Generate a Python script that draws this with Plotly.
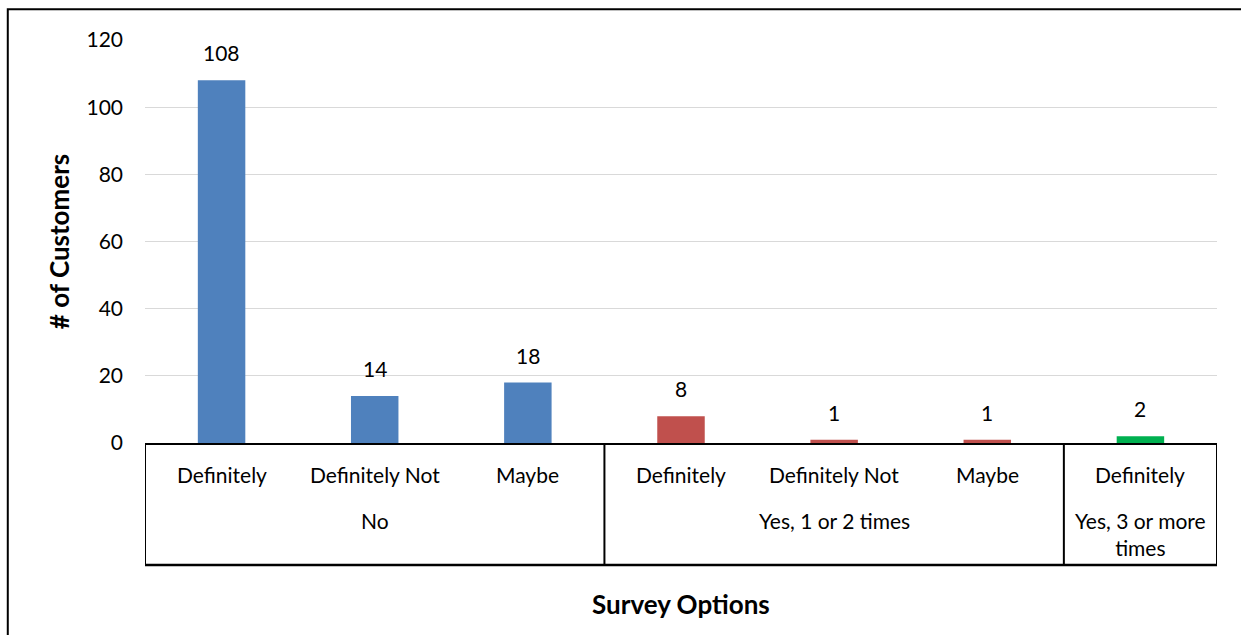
import plotly.graph_objects as go

# Survey responses: answer detail (sub-category) grouped by visit frequency
sub_labels = ["Definitely", "Definitely Not", "Maybe",
              "Definitely", "Definitely Not", "Maybe",
              "Definitely"]
group_labels = ["No", "Yes, 1 or 2 times", "Yes, 3 or more<br>times"]
group_sizes = [3, 3, 1]
customers = [108, 14, 18, 8, 1, 1, 2]
group_colors = ["#4F81BD", "#C0504D", "#00B050"]

FONT = "Lato"
TXT = "#000000"
FS = 21

positions = list(range(len(customers)))
bar_colors = []
for color, n in zip(group_colors, group_sizes):
    bar_colors += [color] * n

fig = go.Figure()
fig.add_trace(go.Bar(
    x=positions, y=customers, width=0.31,
    marker=dict(color=bar_colors, line=dict(width=0)),
    hoverinfo="skip", showlegend=False,
))

annotations = []
# value labels above bars
for xi, v in zip(positions, customers):
    annotations.append(dict(x=xi, y=v, xref="x", yref="y", text=str(v),
                            showarrow=False, yanchor="bottom", yshift=13,
                            font=dict(family=FONT, size=FS, color=TXT)))
# first category level
for xi, lab in zip(positions, sub_labels):
    annotations.append(dict(x=xi, y=-0.078, xref="x", yref="paper", text=lab,
                            showarrow=False, yanchor="middle",
                            font=dict(family=FONT, size=FS, color=TXT)))
# second category level and divider lines
shapes = []
start = 0
bounds = [-0.5]
for lab, n in zip(group_labels, group_sizes):
    center = start + (n - 1) / 2
    y_lab = -0.193 if "<br>" not in lab else -0.227
    annotations.append(dict(x=center, y=y_lab, xref="x", yref="paper", text=lab,
                            showarrow=False, yanchor="middle",
                            font=dict(family=FONT, size=FS, color=TXT)))
    start += n
    bounds.append(start - 0.5)

table_bottom = -0.303
for b in bounds:
    shapes.append(dict(type="line", xref="x", yref="paper", x0=b, x1=b,
                       y0=0, y1=table_bottom, line=dict(color="#000000", width=2)))
shapes.append(dict(type="line", xref="x", yref="paper", x0=-0.5, x1=len(customers) - 0.5,
                   y0=table_bottom, y1=table_bottom, line=dict(color="#000000", width=2.5)))
# chart outer frame
shapes.append(dict(type="rect", xref="paper", yref="paper",
                   x0=-0.128, x1=1.05, y0=-0.5, y1=1.076,
                   line=dict(color="#000000", width=2)))

annotations.append(dict(x=0.5, y=-0.4, xref="paper", yref="paper", text="<b>Survey Options</b>",
                        showarrow=False, yanchor="middle",
                        font=dict(family=FONT, size=26, color=TXT)))

fig.update_layout(
    width=1241, height=635,
    margin=dict(l=145, r=24, t=40, b=192),
    paper_bgcolor="white", plot_bgcolor="white",
    bargap=0.69,
    xaxis=dict(range=[-0.5, len(customers) - 0.5], showticklabels=False,
               showgrid=False, zeroline=False, showline=True,
               linecolor="#000000", linewidth=2, ticks=""),
    yaxis=dict(range=[0, 120], dtick=20, showgrid=True, gridcolor="#D9D9D9",
               gridwidth=1.3, zeroline=False, showline=False, ticks="",
               ticklabelstandoff=21,
               tickfont=dict(family=FONT, size=FS, color=TXT),
               title=dict(text="<b># of Customers</b>", standoff=9,
                          font=dict(family=FONT, size=26, color=TXT))),
    annotations=annotations,
    shapes=shapes,
)

fig.write_html("out.html")
